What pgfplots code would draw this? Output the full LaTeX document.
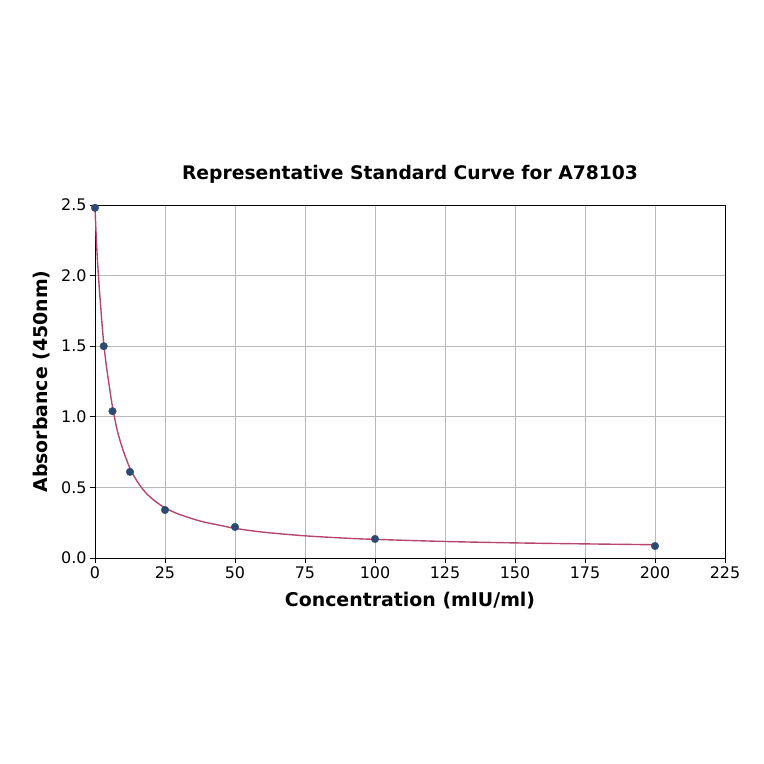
\documentclass[border=0pt]{standalone}
\usepackage{pgfplots}
\pgfplotsset{compat=1.18}
\usepackage{fontspec}
\setmainfont{DejaVu Sans}
\definecolor{ptcol}{HTML}{2E4A72}
\definecolor{curvecol}{HTML}{B5476E}
\begin{document}
\begin{tikzpicture}
\path[use as bounding box] (-95bp,-206bp) rectangle (669bp,558bp);
\begin{axis}[
  at={(0,0)}, anchor=south west,
  scale only axis, width=630bp, height=353bp,
  xmin=0, xmax=225, ymin=0, ymax=2.5,
  xtick={0,25,...,225}, ytick={0,0.5,...,2.5},
  yticklabel style={/pgf/number format/.cd,fixed,fixed zerofill,precision=1},
  /pgf/number format/assume math mode=true,
  ticklabel style={font=\fontsize{16}{19}\selectfont},
  grid=major, grid style={gray!55, line width=0.7pt},
  axis line style={line width=0.9pt},
  tick style={black, line width=0.9pt},
  tick align=outside, major tick length=5bp,
  xtick pos=bottom, ytick pos=left,
  xlabel={\textbf{Concentration (mIU/ml)}},
  ylabel={\textbf{Absorbance (450nm)}},
  label style={font=\fontsize{19}{22}\selectfont},
  xlabel style={yshift=-7bp},
  ylabel style={yshift=4bp},
  title={\textbf{Representative Standard Curve for A78103}},
  title style={font=\fontsize{18.8}{22}\selectfont, yshift=12bp},
  clip=false,
]
\addplot[curvecol, line width=1.4pt, smooth, tension=0.5] coordinates {
(0,2.48) (0.5,2.25) (1,2.07) (1.5,1.92) (2,1.79) (2.5,1.66) (3.125,1.52) (4,1.37) (5,1.23) (6.25,1.07) (8,0.90) (10,0.765) (12.5,0.635) (15,0.545) (18,0.465) (21,0.41) (25,0.355) (30,0.31) (37.5,0.262) (45,0.23) (50,0.21) (60,0.183) (75,0.157) (90,0.14) (100,0.132) (125,0.117) (150,0.107) (175,0.1) (200,0.094)
};
\addplot[only marks, mark=*, mark size=3.8pt, ptcol, mark options={fill=ptcol, draw=ptcol}] coordinates {
(0,2.48) (3.125,1.50) (6.25,1.04) (12.5,0.61) (25,0.34) (50,0.22) (100,0.135) (200,0.085)
};
\end{axis}
\end{tikzpicture}
\end{document}
